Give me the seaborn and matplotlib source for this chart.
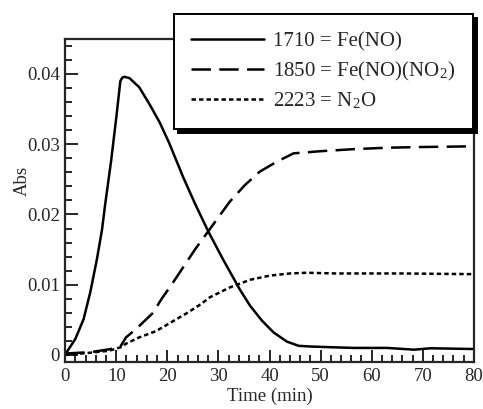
import matplotlib
matplotlib.use("Agg")
import matplotlib.pyplot as plt
from matplotlib.ticker import MultipleLocator, FuncFormatter
import numpy as np
import pandas as pd
import seaborn as sns

# 1710 cm-1 band, Fe(NO)
t_fe_no = [0, 0.3, 2.0, 3.6, 4.9, 6.2, 7.2, 7.8, 9.0, 10.0, 10.8, 11.2, 11.6, 12.6, 14.5,
           16.5, 18.5, 20.4, 23.1, 25.5, 28, 30.9, 34.2, 36.2, 38.5, 40.8, 43.4, 45.7,
           48, 52, 56.5, 63, 68.3, 71.6, 79.4, 80]
a_fe_no = [0.0002, 0.0004, 0.0023, 0.0051, 0.0089, 0.0136, 0.0178, 0.0213, 0.0277, 0.0338,
           0.039, 0.0395, 0.0396, 0.0394, 0.0381, 0.0357, 0.0331, 0.0301, 0.0253, 0.0214,
           0.0176, 0.0136, 0.0093, 0.007, 0.0049, 0.0032, 0.0019, 0.0013, 0.0012, 0.0011,
           0.001, 0.001, 0.00075, 0.00095, 0.00085, 0.00085]

# 1850 cm-1 band, Fe(NO)(NO2)
t_fe_no_no2 = [0, 5, 8.6, 10, 10.9, 11.9, 13.9, 17.2, 18.8, 21.1, 25.4, 28, 29.9, 32.2,
               35.2, 38.1, 41.4, 44.7, 49.9, 56.5, 63, 69.6, 80]
a_fe_no_no2 = [0.0002, 0.0004, 0.0008, 0.001, 0.0013, 0.0025, 0.0037, 0.006, 0.0079,
               0.0103, 0.015, 0.0176, 0.0195, 0.0218, 0.0242, 0.0261, 0.0275, 0.0287,
               0.029, 0.0293, 0.0295, 0.0296, 0.0297]

# 2223 cm-1 band, N2O
t_n2o = [0, 4.7, 8.6, 10.9, 11.9, 14.5, 17.8, 21.1, 23.7, 26.5, 28.3, 32.2, 36.2, 40.1,
         44, 47.3, 53, 66, 80]
a_n2o = [0.0, 0.0003, 0.0006, 0.0011, 0.0016, 0.0025, 0.0034, 0.0048, 0.0059, 0.0072,
         0.0082, 0.0096, 0.0107, 0.0113, 0.0116, 0.0117, 0.0116, 0.0116, 0.0115]

labels = ["1710 = Fe(NO)",
          "1850 = Fe(NO)(NO$_\\mathregular{2}$)",
          "2223 = N$_\\mathregular{2}$O"]

x_ticks = [0, 10, 20, 30, 40, 50, 60, 70, 80]
y_ticks = [0, 0.01, 0.02, 0.03, 0.04]

sns.set_style("ticks")
plt.rcParams["font.family"] = ["Liberation Serif", "DejaVu Serif"]
plt.rcParams["mathtext.fontset"] = "stix"
plt.rcParams["lines.scale_dashes"] = False

fig = plt.figure(figsize=(4.83, 4.09), dpi=100)
ax = fig.add_axes([0.135, 0.115, 0.846, 0.79])

series = [
    (t_fe_no, a_fe_no, labels[0], "-"),
    (t_fe_no_no2, a_fe_no_no2, labels[1], (0, (14, 6))),
    (t_n2o, a_n2o, labels[2], (0, (3.2, 2.2))),
]
for t, a, lab, ls in series:
    df = pd.DataFrame({"Time (min)": t, "Abs": a})
    sns.lineplot(data=df, x="Time (min)", y="Abs", ax=ax, color="black",
                 linewidth=1.8, linestyle=ls, label=lab, estimator=None, sort=False)

ax.set_xlim(0, 80)
ax.set_ylim(-0.001, 0.045)
ax.set_xticks(x_ticks)
ax.set_yticks(y_ticks)
ax.xaxis.set_minor_locator(MultipleLocator(2))
ax.yaxis.set_minor_locator(MultipleLocator(0.002))
ax.yaxis.set_major_formatter(FuncFormatter(lambda v, p: "0" if abs(v) < 1e-12 else f"{v:.2f}"))
ax.tick_params(axis="both", which="both", direction="in", top=False, right=False,
               labelsize=13.5, width=1.4, pad=4)
ax.tick_params(which="major", length=9)
ax.tick_params(which="minor", length=5)
for s in ax.spines.values():
    s.set_linewidth(1.6)
    s.set_visible(True)
ax.set_xlabel("Time (min)", fontsize=13.5, labelpad=2)
ax.set_ylabel("Abs", fontsize=13.5)
ax.yaxis.set_label_coords(-0.085, 0.56)

leg = ax.legend(loc="upper right", bbox_to_anchor=(0.979, 0.966),
                bbox_transform=fig.transFigure, fontsize=15, frameon=True,
                fancybox=False, edgecolor="black", framealpha=1,
                shadow={"ox": 2.8, "oy": -2.8, "color": "black", "alpha": 1},
                handlelength=3.5, handletextpad=0.4, labelspacing=0.4,
                borderpad=0.85, borderaxespad=0)
leg.get_frame().set_linewidth(1.4)

fig.savefig("out.png", dpi=100)
